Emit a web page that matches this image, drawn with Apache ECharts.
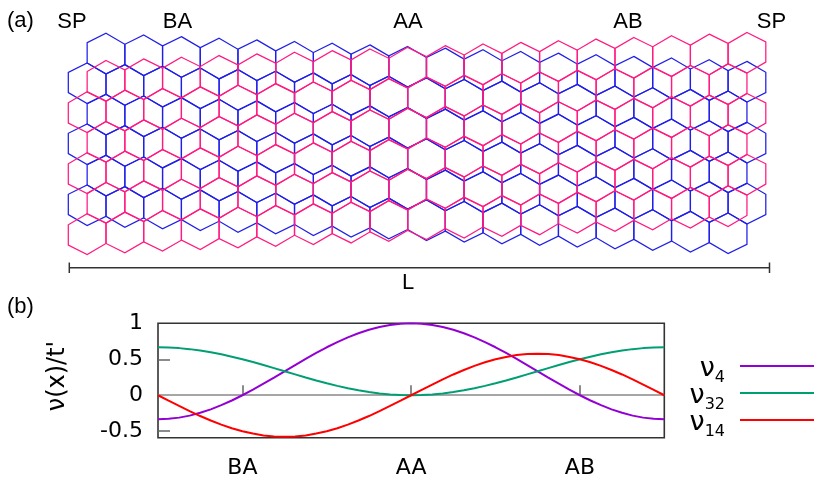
<!DOCTYPE html>
<html><head><meta charset="utf-8">
<script src="https://cdn.jsdelivr.net/npm/echarts@6/dist/echarts.min.js"></script>
<style>html,body{margin:0;padding:0;background:#fff}#c{width:823px;height:487px}</style>
</head><body><div id="c"></div>
<script>
// ---------------- data ----------------
// (a) sliding bilayer honeycomb
const stackingLabels = ['SP', 'BA', 'AA', 'AB', 'SP'];
const latticeRows = [0, 1, 2, 3, 4, 5];
const hexPerRow = 18;
const layerNames = ['blue layer', 'magenta layer'];
const layerSlide = [1, -1]; // vertical slide (row spacings) accumulated over L
const lengthLabel = 'L';

// (b) interlayer hopping profiles
const xSamples = [0,0.5,1,1.5,2,2.5,3,3.5,4,4.5,5,5.5,6,6.5,7,7.5,8,8.5,9,9.5,10,10.5,11,11.5,12,
                  12.5,13,13.5,14,14.5,15,15.5,16,16.5,17,17.5,18,18.5,19,19.5,20,20.5,21,21.5,22,22.5,23,23.5,24];
const nu4  = [-0.333,-0.328,-0.311,-0.283,-0.244,-0.196,-0.138,-0.073,0.000,0.078,0.161,0.246,0.333,0.420,0.506,0.588,0.667,0.739,0.805,0.862,0.911,0.949,0.977,0.994,1.000,
              0.994,0.977,0.949,0.911,0.862,0.805,0.739,0.667,0.588,0.506,0.420,0.333,0.246,0.161,0.078,0.000,-0.073,-0.138,-0.196,-0.244,-0.283,-0.311,-0.328,-0.333];
const nu32 = [0.667,0.664,0.655,0.641,0.622,0.598,0.569,0.536,0.500,0.461,0.420,0.377,0.333,0.290,0.247,0.206,0.167,0.130,0.098,0.069,0.045,0.025,0.011,0.003,0.000,
              0.003,0.011,0.025,0.045,0.069,0.098,0.130,0.167,0.206,0.247,0.290,0.333,0.377,0.420,0.461,0.500,0.536,0.569,0.598,0.622,0.641,0.655,0.664,0.667];
const nu14 = [0.000,-0.075,-0.149,-0.221,-0.289,-0.351,-0.408,-0.458,-0.500,-0.533,-0.558,-0.572,-0.577,-0.572,-0.558,-0.533,-0.500,-0.458,-0.408,-0.351,-0.289,-0.221,-0.149,-0.075,0.000,
              0.075,0.149,0.221,0.289,0.351,0.408,0.458,0.500,0.533,0.558,0.572,0.577,0.572,0.558,0.533,0.500,0.458,0.408,0.351,0.289,0.221,0.149,0.075,0.000];
const seriesNames = ['ν4', 'ν32', 'ν14'];
const xTickPositions = [4, 12, 20];
const xTickLabels = ['BA', 'AA', 'AB'];
const yTickValues = [-0.5, 0, 0.5, 1];
const yAxisTitle = "ν(x)/t'";

// ---------------- styles / layout ----------------
const stackingLabelX = [72, 177.5, 408, 628, 771.5];
const layerColors = ['#1f1fe8', '#ff1a80'];
const curveColors = ['#9400d3', '#009e73', '#ff0000'];
const latticeWidth = hexPerRow + 0.5;
const latticeMid = latticeWidth / 2;
const hexCorners = [[0, -2 / 3], [0.5, -1 / 3], [0.5, 1 / 3], [0, 2 / 3], [-0.5, 1 / 3], [-0.5, -1 / 3]];

function layerData(layer) {
  const out = [];
  latticeRows.forEach(r => {
    const start = (r % 2 === 0) ? 1 : 0.5;
    for (let k = 0; k < hexPerRow; k++) out.push([start + k, r, layerSlide[layer], layer]);
  });
  return out;
}
function renderHex(params, api) {
  const cx = api.value(0), cy = api.value(1), slide = api.value(2), layer = api.value(3);
  const pts = hexCorners.map(([dx, dy]) => {
    const x = cx + dx;
    const y = cy + dy + slide * (x - latticeMid) / latticeWidth;
    return api.coord([x, y]);
  });
  return { type: 'polygon', shape: { points: pts },
    style: { fill: 'none', stroke: layerColors[layer], lineWidth: 1.25 } };
}

const lab = 'Liberation Sans, Arial, sans-serif';
const dv = 'DejaVu Sans, sans-serif';

const graphics = [];
graphics.push({ type: 'text', left: 7, top: 10, style: { text: '(a)', font: '22px ' + lab, fill: '#000' } });
graphics.push({ type: 'text', left: 7, top: 296, style: { text: '(b)', font: '22px ' + lab, fill: '#000' } });
stackingLabels.forEach((t, i) => {
  graphics.push({ type: 'text', x: stackingLabelX[i], y: 22, style: { text: t, font: '22px ' + lab, fill: '#000', align: 'center', verticalAlign: 'middle' } });
});
graphics.push({ type: 'line', shape: { x1: 69.3, y1: 267.7, x2: 769.5, y2: 267.7 }, style: { stroke: '#333', lineWidth: 1.5 } });
graphics.push({ type: 'line', shape: { x1: 69.3, y1: 262.5, x2: 69.3, y2: 273 }, style: { stroke: '#333', lineWidth: 1.5 } });
graphics.push({ type: 'line', shape: { x1: 769.5, y1: 262.5, x2: 769.5, y2: 273 }, style: { stroke: '#333', lineWidth: 1.5 } });
graphics.push({ type: 'text', x: 408, y: 283, style: { text: lengthLabel, font: '22px ' + lab, fill: '#000', align: 'center', verticalAlign: 'middle' } });
graphics.push({ type: 'text', x: 57.5, y: 376, rotation: Math.PI / 2, style: { text: yAxisTitle, font: '24px ' + dv, fill: '#000', align: 'center', verticalAlign: 'middle' } });

const curves = [nu4, nu32, nu14];
const lineSeries = curves.map((vals, i) => ({
  name: seriesNames[i], type: 'line', xAxisIndex: 1, yAxisIndex: 1,
  data: xSamples.map((x, j) => [x, vals[j]]),
  smooth: false, symbol: 'none', showSymbol: false,
  lineStyle: { color: curveColors[i], width: 2 }, itemStyle: { color: curveColors[i] },
  z: 3,
  markLine: i === 0 ? { silent: true, symbol: 'none', label: { show: false }, z: 2,
    lineStyle: { color: '#888', width: 1.5, type: 'solid' }, data: [{ yAxis: 0 }] } : undefined
}));

const chart = echarts.init(document.getElementById('c'), null, { renderer: 'canvas' });
chart.setOption({
  animation: false,
  backgroundColor: '#fff',
  grid: [
    { left: 68.3, top: 30.65, width: 697.5, height: 225.65, show: false },
    { left: 158, top: 323.3, width: 506.3, height: 114.4, show: true, borderColor: '#333', borderWidth: 1.6, backgroundColor: 'transparent' }
  ],
  xAxis: [
    { gridIndex: 0, type: 'value', min: 0, max: latticeWidth, show: false },
    { gridIndex: 1, type: 'value', min: 0, max: 24, axisLine: { show: false }, splitLine: { show: false },
      axisTick: { show: true, inside: true, length: 10, customValues: xTickPositions, lineStyle: { color: '#666', width: 1.5 } },
      axisLabel: { customValues: xTickPositions, formatter: v => xTickLabels[xTickPositions.indexOf(v)], fontSize: 22, fontFamily: dv, color: '#000', margin: 20 } }
  ],
  yAxis: [
    { gridIndex: 0, type: 'value', min: -1.2, max: 6.2, inverse: true, show: false },
    { gridIndex: 1, type: 'value', min: -0.59, max: 1, axisLine: { show: false }, splitLine: { show: false },
      axisTick: { show: true, inside: true, length: 12, customValues: [-0.5, 0.5], lineStyle: { color: '#666', width: 1.5 } },
      axisLabel: { customValues: yTickValues, formatter: v => String(v), fontSize: 22, fontFamily: dv, color: '#000', margin: 15 } }
  ],
  legend: {
    data: seriesNames.map((n, i) => ({ name: n, icon: 'rect', itemStyle: { color: curveColors[i] } })),
    orient: 'vertical', right: 9, top: 355, padding: 0, align: 'right',
    itemWidth: 74, itemHeight: 2, itemGap: -4, selectedMode: false,
    formatter: name => '{n|ν}{s|' + name.slice(1) + '}',
    textStyle: { color: '#000', fontFamily: dv,
      rich: { n: { fontSize: 27, fontFamily: dv, lineHeight: 22, verticalAlign: 'top' },
              s: { fontSize: 16, fontFamily: dv, lineHeight: 16, padding: [15, 10, 0, 0], verticalAlign: 'top' } } }
  },
  graphic: graphics,
  series: [
    { name: layerNames[0], type: 'custom', coordinateSystem: 'cartesian2d', xAxisIndex: 0, yAxisIndex: 0,
      data: layerData(0), renderItem: renderHex, clip: false, encode: { x: 0, y: 1 }, silent: true },
    { name: layerNames[1], type: 'custom', coordinateSystem: 'cartesian2d', xAxisIndex: 0, yAxisIndex: 0,
      data: layerData(1), renderItem: renderHex, clip: false, encode: { x: 0, y: 1 }, silent: true }
  ].concat(lineSeries)
});
</script></body></html>
